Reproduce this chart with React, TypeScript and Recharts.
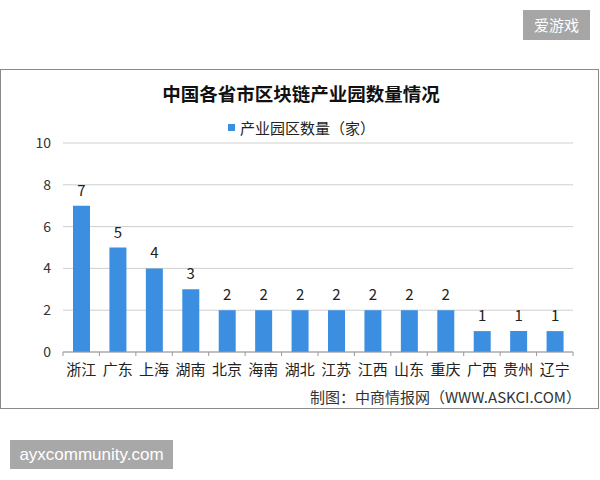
import { BarChart, Bar, XAxis, YAxis, CartesianGrid, LabelList } from "recharts";

const provinces = ["浙江", "广东", "上海", "湖南", "北京", "海南", "湖北", "江苏", "江西", "山东", "重庆", "广西", "贵州", "辽宁"];
const parkCounts = [7, 5, 4, 3, 2, 2, 2, 2, 2, 2, 2, 1, 1, 1];
const yTicks = [0, 2, 4, 6, 8, 10];

const TITLE = "中国各省市区块链产业园数量情况";
const SERIES = "产业园区数量（家）";
const SOURCE = "制图：中商情报网（WWW.ASKCI.COM）";

const BLUE = "#3c8fe0";
const FONT = "'Noto Sans CJK SC', 'Noto Sans', sans-serif";

const data = provinces.map((name, i) => ({ name, value: parkCounts[i] }));

// plot area: x 63..573
const PLOT_W = 510;
const HALF_BAND = PLOT_W / provinces.length / 2;

function CatTick(props: any) {
  const { x, y, payload, index } = props;
  const axisY = y - 8;
  return (
    <g>
      <line x1={x - HALF_BAND} x2={x - HALF_BAND} y1={axisY} y2={axisY + 4} stroke="#999" />
      {index === provinces.length - 1 && (
        <line x1={x + HALF_BAND} x2={x + HALF_BAND} y1={axisY} y2={axisY + 4} stroke="#999" />
      )}
      <text x={x} y={y + 4} dy="0.71em" textAnchor="middle" fontSize={15} fill="#222" fontFamily={FONT}>
        {payload.value}
      </text>
    </g>
  );
}

export default function App() {
  return (
    <div style={{ position: "absolute", left: 0, top: 0, width: 600, height: 480, background: "#fff", fontFamily: FONT }}>
      {/* watermark tag top right */}
      <div style={{
        position: "absolute", left: 523, top: 10, width: 67, height: 30, background: "#a6a6a6",
        color: "#fff", fontSize: 15, lineHeight: "30px", textAlign: "center",
      }}>爱游戏</div>

      {/* chart frame */}
      <div style={{ position: "absolute", left: 0, top: 69, width: 597, height: 338, border: "1px solid #8a8a8a" }} />

      <div style={{
        position: "absolute", left: 0, top: 81, width: 602, textAlign: "center",
        fontSize: 18.5, fontWeight: 700, color: "#111", lineHeight: "24px",
      }}>{TITLE}</div>

      <div style={{
        position: "absolute", left: 228, top: 117, height: 20, display: "flex", alignItems: "center",
        fontSize: 15, color: "#222",
      }}>
        <span style={{ display: "inline-block", width: 7, height: 7, background: BLUE, marginRight: 5 }} />
        {SERIES}
      </div>

      <div style={{ position: "absolute", left: 0, top: 0 }}>
        <BarChart width={600} height={480} data={data} margin={{ top: 143, right: 27, left: 0, bottom: 98 }}>
          <CartesianGrid vertical={false} stroke="#cfcfcf" />
          <XAxis
            dataKey="name"
            height={30}
            axisLine={{ stroke: "#999" }}
            tickLine={false}
            interval={0}
            tick={<CatTick />}
          />
          <YAxis
            width={63}
            domain={[0, 10]}
            ticks={yTicks}
            axisLine={false}
            tickLine={false}
            tickMargin={6}
            tick={{ fontSize: 14, fill: "#333", fontFamily: FONT }}
          />
          <Bar dataKey="value" fill={BLUE} barSize={17} isAnimationActive={false}>
            <LabelList dataKey="value" position="top" offset={10} fontSize={15} fill="#222" fontFamily={FONT} />
          </Bar>
        </BarChart>
      </div>

      <div style={{
        position: "absolute", right: 19, top: 386, fontSize: 15, color: "#333", lineHeight: "21px",
      }}>{SOURCE}</div>

      {/* watermark tag bottom left */}
      <div style={{
        position: "absolute", left: 10, top: 440, width: 163, height: 29, background: "#a8a8a8",
        color: "#fff", fontSize: 17, lineHeight: "29px", textAlign: "center",
        fontFamily: "'Liberation Sans', Arial, sans-serif",
      }}>ayxcommunity.com</div>
    </div>
  );
}
